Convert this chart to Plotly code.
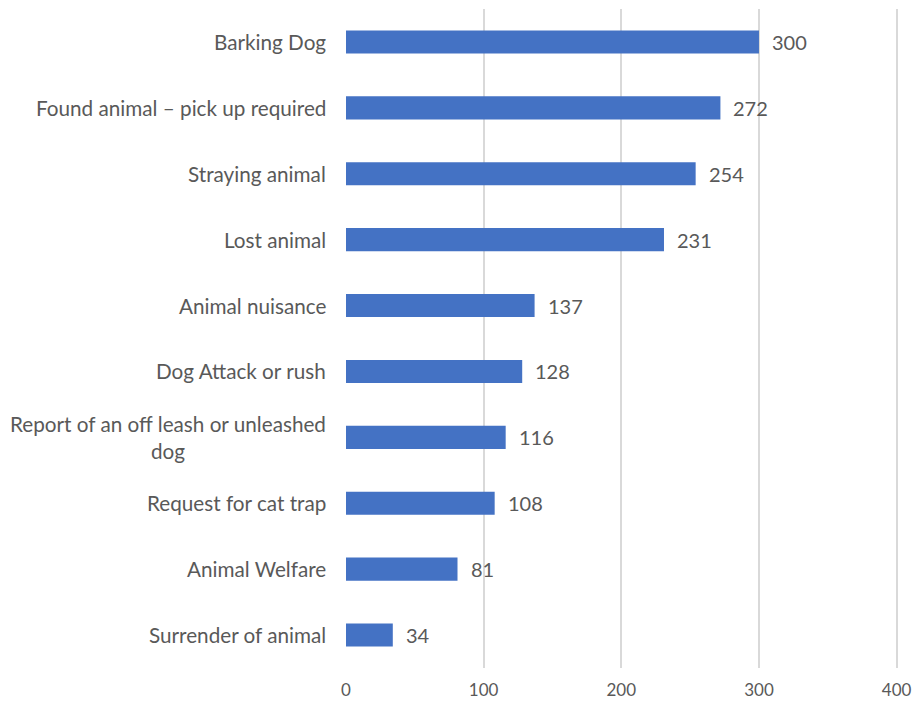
import plotly.graph_objects as go

categories = [
    "Barking Dog",
    "Found animal – pick up required",
    "Straying animal",
    "Lost animal",
    "Animal nuisance",
    "Dog Attack or rush",
    "Report of an off leash or unleashed<br>dog",
    "Request for cat trap",
    "Animal Welfare",
    "Surrender of animal",
]
values = [300, 272, 254, 231, 137, 128, 116, 108, 81, 34]
x_ticks = [0, 100, 200, 300, 400]

FONT = "Lato"
GRAY = "#595959"

fig = go.Figure()
fig.add_trace(go.Bar(
    x=values,
    y=categories,
    orientation="h",
    marker=dict(color="#4472C4", line=dict(width=0)),
    width=0.35,
    hoverinfo="x+y",
))

annotations = []
for c, v in zip(categories, values):
    annotations.append(dict(
        x=v, y=c, xref="x", yref="y", text=str(v), showarrow=False,
        xanchor="left", xshift=11, font=dict(family=FONT, size=20, color=GRAY),
    ))
    annotations.append(dict(
        x=0, y=c, xref="paper", yref="y", text=c, showarrow=False,
        xanchor="right", xshift=-18, align="center",
        font=dict(family=FONT, size=20.7, color=GRAY),
    ))

fig.update_layout(
    width=905, height=693,
    margin=dict(l=338, r=9, t=1, b=33),
    plot_bgcolor="white", paper_bgcolor="white",
    showlegend=False,
    font=dict(family=FONT, size=16, color=GRAY),
    xaxis=dict(
        range=[0, 401], tickvals=x_ticks, showgrid=True, gridcolor="#D9D9D9",
        gridwidth=1.5, zeroline=False, showline=False, ticks="",
        ticklabelstandoff=10, ticklabeloverflow="allow",
        tickfont=dict(family=FONT, size=17, color=GRAY),
    ),
    yaxis=dict(
        autorange="reversed", showticklabels=False, showgrid=False,
        zeroline=False, showline=False, ticks="",
    ),
    annotations=annotations,
)
fig.write_html("out.html")
